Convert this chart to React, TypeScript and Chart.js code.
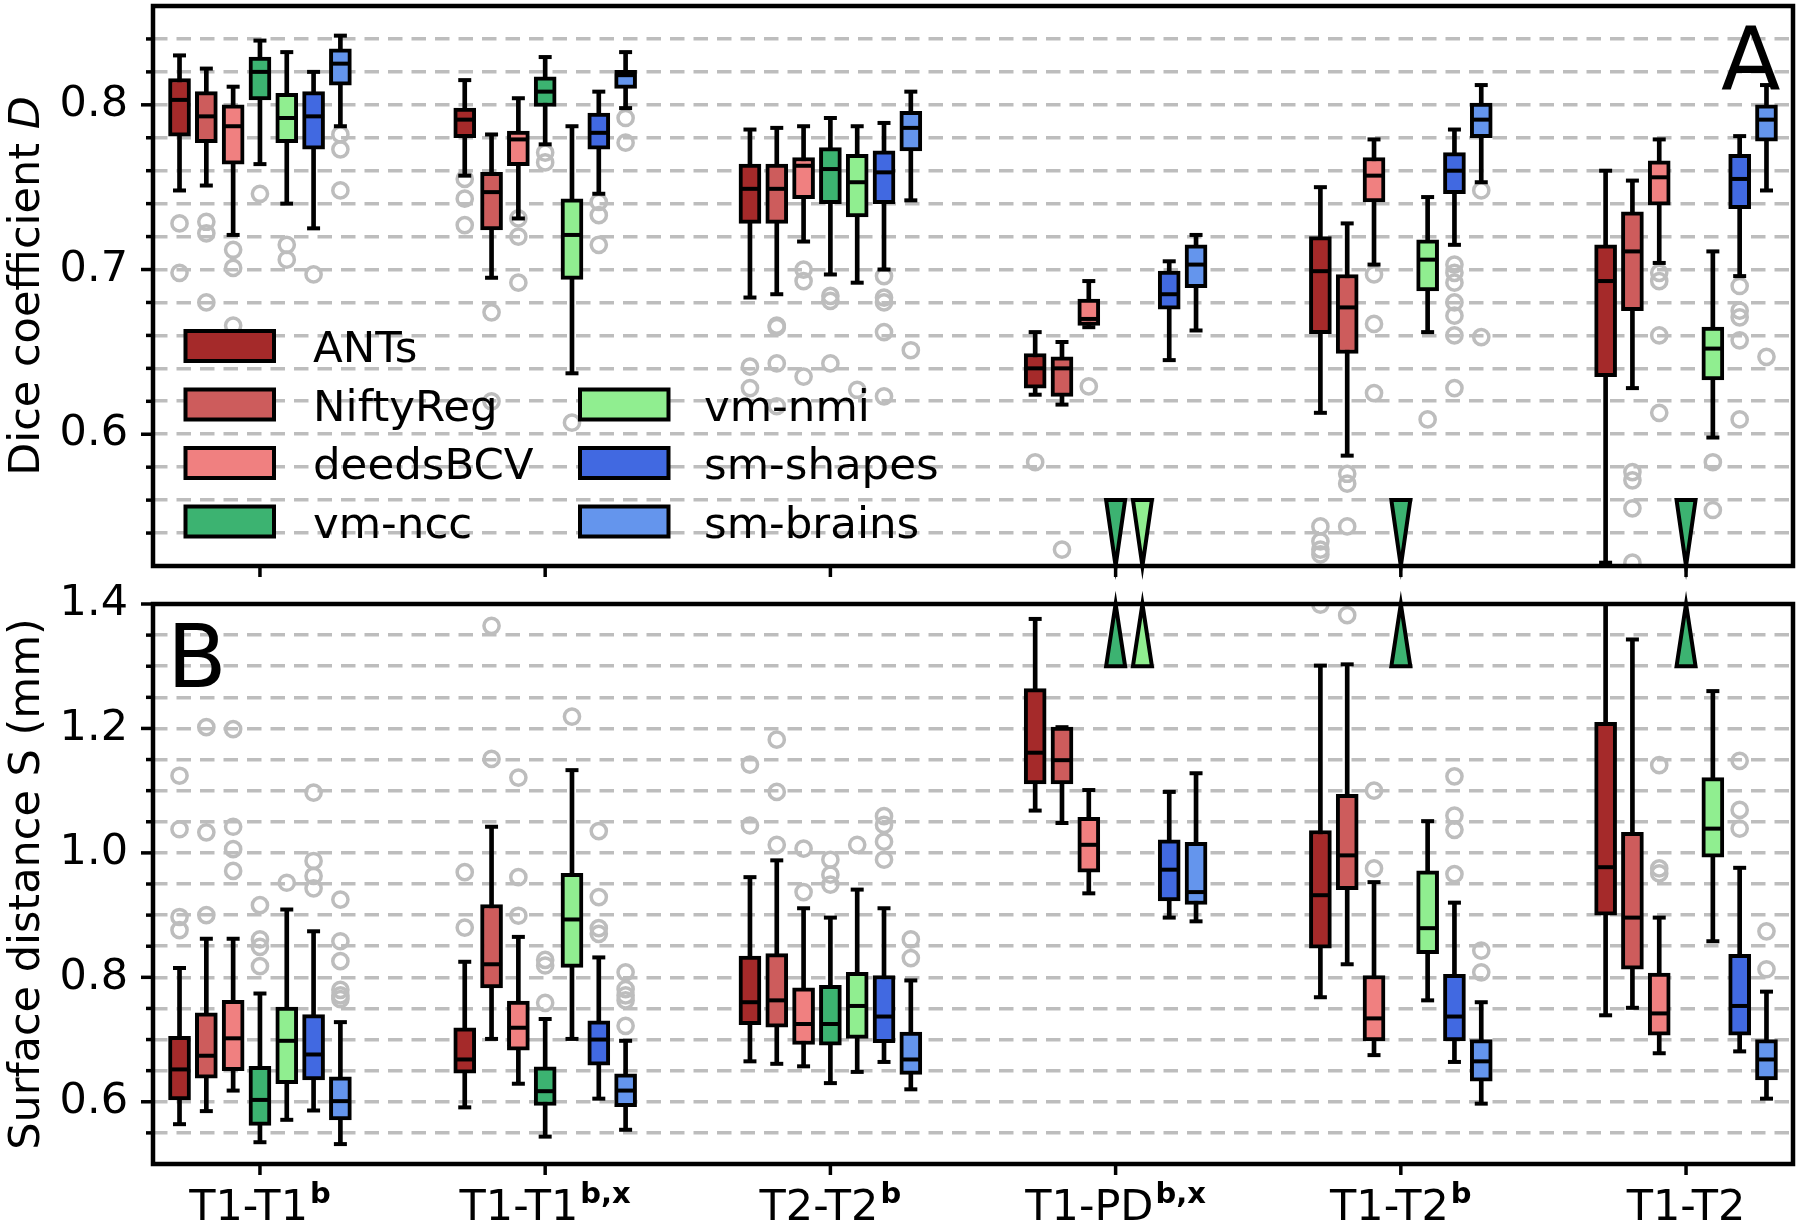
import React, { useEffect, useRef } from 'react';
import { Chart, registerables } from 'chart.js';

Chart.register(...registerables);

// ---------- categories / series ----------
const GROUPS = ['T1-T1', 'T1-T1', 'T2-T2', 'T1-PD', 'T1-T2', 'T1-T2'];
const GROUP_SUP = ['b', 'b,x', 'b', 'b,x', 'b', ''];
const SERIES = ['ANTs', 'NiftyReg', 'deedsBCV', 'vm-ncc', 'vm-nmi', 'sm-shapes', 'sm-brains'];
const COLORS = ['#a52a2a', '#cd5c5c', '#f08080', '#3cb371', '#90ee90', '#4169e1', '#6495ed'];

// ---------- Dice coefficient D (rows: series, cols: groups) ----------
const DICE_WHI = [
  [0.830, 0.815, 0.785, 0.662, 0.750, 0.760],
  [0.822, 0.782, 0.786, 0.656, 0.728, 0.754],
  [0.811, 0.804, 0.787, 0.693, 0.779, 0.779],
  [0.839, 0.829, 0.792, null, null, null],
  [0.832, 0.787, 0.787, null, 0.744, 0.711],
  [0.820, 0.808, 0.789, 0.705, 0.785, 0.781],
  [0.842, 0.832, 0.808, 0.721, 0.812, 0.812],
];
const DICE_Q3 = [
  [0.816, 0.798, 0.764, 0.649, 0.720, 0.715],
  [0.808, 0.759, 0.764, 0.647, 0.697, 0.735],
  [0.800, 0.784, 0.768, 0.682, 0.768, 0.766],
  [0.829, 0.817, 0.774, null, null, null],
  [0.807, 0.743, 0.770, null, 0.718, 0.665],
  [0.808, 0.795, 0.772, 0.699, 0.771, 0.770],
  [0.834, 0.821, 0.796, 0.715, 0.801, 0.800],
];
const DICE_MED = [
  [0.803, 0.791, 0.749, 0.640, 0.699, 0.693],
  [0.793, 0.747, 0.749, 0.640, 0.677, 0.711],
  [0.787, 0.779, 0.763, 0.670, 0.757, 0.756],
  [0.820, 0.808, 0.761, null, null, null],
  [0.792, 0.721, 0.753, null, 0.706, 0.652],
  [0.793, 0.783, 0.759, 0.685, 0.760, 0.755],
  [0.825, 0.818, 0.786, 0.703, 0.791, 0.791],
];
const DICE_Q1 = [
  [0.781, 0.780, 0.728, 0.628, 0.661, 0.635],
  [0.777, 0.724, 0.728, 0.623, 0.649, 0.675],
  [0.764, 0.763, 0.743, 0.666, 0.741, 0.739],
  [0.803, 0.799, 0.740, null, null, null],
  [0.777, 0.694, 0.732, null, 0.687, 0.633],
  [0.773, 0.773, 0.740, 0.676, 0.746, 0.737],
  [0.812, 0.810, 0.772, 0.689, 0.780, 0.778],
];
const DICE_WLO = [
  [0.748, 0.757, 0.683, 0.624, 0.613, 0.522],
  [0.751, 0.695, 0.685, 0.618, 0.587, 0.628],
  [0.721, 0.731, 0.717, 0.665, 0.703, 0.704],
  [0.764, 0.776, 0.697, null, null, null],
  [0.740, 0.637, 0.692, null, 0.662, 0.598],
  [0.725, 0.746, 0.700, 0.645, 0.715, 0.696],
  [0.787, 0.798, 0.742, 0.663, 0.753, 0.748],
];
const DICE_OUT = [
  [[0.728, 0.698], [0.755, 0.743, 0.727], [0.641, 0.628], [0.583], [0.544, 0.535, 0.530, 0.527], []],
  [[0.729, 0.722, 0.680], [0.674, 0.620], [0.666, 0.665, 0.643, 0.617], [0.530], [0.576, 0.570, 0.544], [0.577, 0.572, 0.555, 0.522]],
  [[0.712, 0.701, 0.666], [0.731, 0.720, 0.692], [0.700, 0.693, 0.635], [0.629], [0.697, 0.667, 0.625], [0.698, 0.693, 0.660, 0.613]],
  [[0.746], [0.771, 0.765], [0.684, 0.681, 0.643], [], [], []],
  [[0.715, 0.706], [0.607], [0.627], [], [0.609], [0.583, 0.554]],
  [[0.697], [0.741, 0.733, 0.715], [0.696, 0.683, 0.680, 0.662, 0.623], [], [0.703, 0.698, 0.692, 0.680, 0.672, 0.660, 0.628], [0.690, 0.675, 0.671, 0.657, 0.609]],
  [[0.782, 0.773, 0.748], [0.792, 0.777], [0.651], [], [0.748, 0.659], [0.647]],
];

// ---------- Surface distance S (mm) ----------
const SURF_WHI = [
  [0.815, 0.825, 0.961, 1.376, 1.301, 1.450],
  [0.862, 1.042, 0.988, 1.202, 1.303, 1.343],
  [0.862, 0.865, 0.911, 1.101, 0.953, 0.896],
  [0.774, 0.733, 0.896, null, null, null],
  [0.909, 1.133, 0.941, null, 1.051, 1.260],
  [0.874, 0.832, 0.911, 1.098, 0.920, 0.976],
  [0.728, 0.698, 0.795, 1.128, 0.760, 0.777],
];
const SURF_Q3 = [
  [0.705, 0.719, 0.834, 1.264, 1.036, 1.210],
  [0.743, 0.917, 0.838, 1.202, 1.094, 1.033],
  [0.763, 0.762, 0.783, 1.057, 0.803, 0.807],
  [0.657, 0.656, 0.787, null, null, null],
  [0.752, 0.967, 0.808, null, 0.971, 1.121],
  [0.740, 0.730, 0.803, 1.021, 0.805, 0.837],
  [0.640, 0.645, 0.712, 1.017, 0.700, 0.700],
];
const SURF_MED = [
  [0.652, 0.668, 0.760, 1.161, 0.932, 0.977],
  [0.674, 0.821, 0.763, 1.149, 0.996, 0.896],
  [0.702, 0.719, 0.725, 1.013, 0.734, 0.742],
  [0.603, 0.617, 0.725, null, null, null],
  [0.698, 0.893, 0.754, null, 0.879, 1.039],
  [0.676, 0.700, 0.737, 0.973, 0.737, 0.754],
  [0.601, 0.618, 0.668, 0.937, 0.665, 0.668],
];
const SURF_Q1 = [
  [0.603, 0.646, 0.724, 1.111, 0.847, 0.900],
  [0.638, 0.783, 0.720, 1.111, 0.941, 0.813],
  [0.650, 0.683, 0.692, 0.969, 0.698, 0.707],
  [0.562, 0.594, 0.691, null, null, null],
  [0.629, 0.816, 0.702, null, 0.838, 0.993],
  [0.635, 0.659, 0.695, 0.923, 0.698, 0.707],
  [0.571, 0.592, 0.644, 0.917, 0.633, 0.635],
];
const SURF_WLO = [
  [0.564, 0.591, 0.665, 1.068, 0.768, 0.739],
  [0.585, 0.701, 0.661, 1.048, 0.821, 0.751],
  [0.618, 0.629, 0.657, 0.935, 0.675, 0.678],
  [0.535, 0.544, 0.630, null, null, null],
  [0.571, 0.701, 0.648, null, 0.763, 0.858],
  [0.586, 0.605, 0.664, 0.896, 0.664, 0.681],
  [0.532, 0.555, 0.620, 0.890, 0.597, 0.605],
];
const SURF_OUT = [
  [[1.124, 1.038, 0.897, 0.876], [0.969, 0.880], [1.142, 1.044], [], [1.399], []],
  [[1.202, 1.033, 0.900], [1.365, 1.151], [1.182, 1.098, 1.013], [], [1.382], []],
  [[1.199, 1.042, 1.006, 0.971], [1.121, 0.961, 0.899], [1.007, 0.937], [], [1.100, 0.975], [1.141, 0.975, 0.967]],
  [[0.916, 0.861, 0.849, 0.818], [0.828, 0.819, 0.759], [0.989, 0.965, 0.949], [], [], []],
  [[0.952], [1.219], [1.013], [], [], []],
  [[1.097, 0.987, 0.963, 0.943], [1.035, 0.929, 0.879, 0.870], [1.059, 1.045, 1.018, 0.989], [], [1.123, 1.060, 1.037, 0.966], [1.148, 1.069, 1.039]],
  [[0.925, 0.858, 0.826, 0.780, 0.771, 0.765], [0.808, 0.781, 0.771, 0.763, 0.722], [0.861, 0.831], [], [0.843, 0.808], [0.874, 0.813]],
];

// off-scale markers (group index, series index)
const OFFSCALE_GROUP = [3, 3, 4, 5];
const OFFSCALE_SERIES = [3, 4, 3, 3];
const DICE_MARK = 0.56;
const SURF_MARK = 1.30;

// axis ranges
const DICE_RANGE = [0.52, 0.86];
const SURF_RANGE = [0.5, 1.4];
const X_RANGE = [-0.375, 5.375];

// ---------- styling ----------
const FONT = '"DejaVu Sans"';
const FS = 43;
const SPACING = 0.094;
const GRID = '#bdbdbd';
const LW = 4;
const B_TOP = 570; // page y of canvas B
const pos = (g: number, k: number) => g + (k - 3) * SPACING;

function buildDatasets(whi: any[][], q3: any[][], med: any[][], q1: any[][], wlo: any[][], out: number[][][]) {
  const ds: any[] = [];
  SERIES.forEach((name, k) => {
    const boxes: any[] = [];
    const whiskers: any[] = [];
    const medians: any[] = [];
    const caps: any[] = [];
    const outs: any[] = [];
    for (let g = 0; g < GROUPS.length; g++) {
      if (med[k][g] == null) continue;
      const x = pos(g, k);
      boxes.push({ x, y: [q1[k][g], q3[k][g]] });
      whiskers.push({ x, y: [wlo[k][g], whi[k][g]] });
      medians.push({ x, y: med[k][g] });
      caps.push({ x, y: wlo[k][g] }, { x, y: whi[k][g] });
      out[k][g].forEach((v) => outs.push({ x, y: v }));
    }
    ds.push({
      type: 'scatter', label: name + ' outliers', data: outs, order: 50, showLine: false,
      pointStyle: 'circle', pointRadius: 7.6, pointBorderWidth: 3.5, pointBorderColor: GRID,
      pointBackgroundColor: 'rgba(0,0,0,0)', clip: 0,
    });
    ds.push({
      type: 'bar', label: name + ' whiskers', data: whiskers, order: 40, backgroundColor: '#000',
      borderWidth: 0, barThickness: LW, grouped: false, clip: 0,
    });
    ds.push({
      type: 'scatter', label: name + ' caps', data: caps, order: 30, showLine: false,
      pointStyle: 'line', pointRadius: 6.5, pointBorderWidth: LW, pointBorderColor: '#000', clip: 0,
    });
    ds.push({
      type: 'bar', label: name, data: boxes, order: 20, backgroundColor: COLORS[k], borderColor: '#000',
      borderWidth: LW, borderSkipped: false, barThickness: 22, grouped: false, clip: 0,
    });
    ds.push({
      type: 'scatter', label: name + ' median', data: medians, order: 10, showLine: false,
      pointStyle: 'line', pointRadius: 10.5, pointBorderWidth: LW, pointBorderColor: '#000', clip: 0,
    });
  });
  return ds;
}

function drawYTitle(ctx: CanvasRenderingContext2D, cy: number, parts: { t: string; italic: boolean }[]) {
  ctx.save();
  const fonts = parts.map((p) => (p.italic ? 'italic ' : '') + FS + 'px ' + FONT);
  const widths = parts.map((p, i) => { ctx.font = fonts[i]; return ctx.measureText(p.t).width; });
  const total = widths.reduce((a, b) => a + b, 0);
  ctx.translate(39, cy);
  ctx.rotate(-Math.PI / 2);
  ctx.fillStyle = '#000';
  ctx.textAlign = 'left';
  ctx.textBaseline = 'alphabetic';
  let x = -total / 2;
  parts.forEach((p, i) => { ctx.font = fonts[i]; ctx.fillText(p.t, x, 0); x += widths[i]; });
  ctx.restore();
}

function makeDecor(panel: 'A' | 'B') {
  return {
    id: 'decor' + panel,
    afterDatasetsDraw(chart: any) {
      const { ctx, chartArea, scales } = chart;
      const xs = scales.x;
      const ys = scales.y;
      ctx.save();
      for (let i = 0; i < OFFSCALE_GROUP.length; i++) {
        const g = OFFSCALE_GROUP[i];
        const k = OFFSCALE_SERIES[i];
        const px = xs.getPixelForValue(pos(g, k));
        const base = ys.getPixelForValue(panel === 'A' ? DICE_MARK : SURF_MARK);
        const apex = panel === 'A' ? chartArea.bottom : chartArea.top;
        ctx.beginPath();
        ctx.moveTo(px - 9.5, base);
        ctx.lineTo(px + 9.5, base);
        ctx.lineTo(px, apex);
        ctx.closePath();
        ctx.fillStyle = COLORS[k];
        ctx.fill();
        ctx.lineWidth = LW;
        ctx.lineJoin = 'miter';
        ctx.strokeStyle = '#000';
        ctx.stroke();
      }
      ctx.restore();
    },
    afterDraw(chart: any) {
      const { ctx, chartArea, scales } = chart;
      const { left, right, top, bottom } = chartArea;
      const xs = scales.x;
      const ys = scales.y;
      ctx.save();
      ctx.strokeStyle = '#000';
      // y tick marks
      ctx.lineWidth = 3.5;
      ys.ticks.forEach((t: any) => {
        const major = !!t.label;
        const atEdge = Math.abs(t.value - ys.min) < 1e-9 || Math.abs(t.value - ys.max) < 1e-9;
        if (!major && atEdge) return;
        const py = ys.getPixelForValue(t.value);
        const len = major ? 12 : 7;
        ctx.beginPath();
        ctx.moveTo(left - len, py);
        ctx.lineTo(left, py);
        ctx.stroke();
      });
      // x tick marks
      for (let g = 0; g < GROUPS.length; g++) {
        const px = xs.getPixelForValue(g);
        ctx.beginPath();
        ctx.moveTo(px, bottom);
        ctx.lineTo(px, bottom + 11);
        ctx.stroke();
      }
      // frame
      ctx.lineWidth = 4.5;
      ctx.strokeRect(left, top, right - left, bottom - top);

      ctx.fillStyle = '#000';
      if (panel === 'A') {
        ctx.font = '87px ' + FONT;
        ctx.textAlign = 'left';
        ctx.textBaseline = 'alphabetic';
        ctx.fillText('A', 1721, 89);
        drawYTitle(ctx, (top + bottom) / 2, [
          { t: 'Dice coefficient ', italic: false },
          { t: 'D', italic: true },
        ]);
        // legend
        const rowY = [346, 404.5, 463, 521.5];
        const colX = [183.5, 578];
        const textX = [313, 704];
        SERIES.forEach((name, k) => {
          const col = k < 4 ? 0 : 1;
          const row = k < 4 ? k : k - 3;
          const cy = rowY[row];
          ctx.fillStyle = COLORS[k];
          ctx.fillRect(colX[col] + 2, cy - 15, 88.5, 30);
          ctx.lineWidth = LW;
          ctx.strokeStyle = '#000';
          ctx.strokeRect(colX[col] + 2, cy - 15, 88.5, 30);
          ctx.fillStyle = '#000';
          ctx.font = '43.5px ' + FONT;
          ctx.textAlign = 'left';
          ctx.textBaseline = 'alphabetic';
          ctx.fillText(name, textX[col], cy + 16);
        });
      } else {
        ctx.font = '87px ' + FONT;
        ctx.textAlign = 'left';
        ctx.textBaseline = 'alphabetic';
        ctx.fillText('B', 167, 687 - B_TOP);
        drawYTitle(ctx, (top + bottom) / 2, [{ t: 'Surface distance S (mm)', italic: false }]);
        // x labels with bold superscripts
        const base = bottom + 56;
        for (let g = 0; g < GROUPS.length; g++) {
          const px = xs.getPixelForValue(g);
          ctx.font = FS + 'px ' + FONT;
          const wm = ctx.measureText(GROUPS[g]).width;
          ctx.font = 'bold 29px ' + FONT;
          const ws = GROUP_SUP[g] ? ctx.measureText(GROUP_SUP[g]).width + 2 : 0;
          const x0 = px - (wm + ws) / 2;
          ctx.textAlign = 'left';
          ctx.textBaseline = 'alphabetic';
          ctx.font = FS + 'px ' + FONT;
          ctx.fillText(GROUPS[g], x0, base);
          if (GROUP_SUP[g]) {
            ctx.font = 'bold 29px ' + FONT;
            ctx.fillText(GROUP_SUP[g], x0 + wm + 2, base - 17.5);
          }
        }
      }
      ctx.restore();
    },
  };
}

function makeConfig(panel: 'A' | 'B') {
  const isA = panel === 'A';
  const datasets = isA
    ? buildDatasets(DICE_WHI, DICE_Q3, DICE_MED, DICE_Q1, DICE_WLO, DICE_OUT)
    : buildDatasets(SURF_WHI, SURF_Q3, SURF_MED, SURF_Q1, SURF_WLO, SURF_OUT);
  const range = isA ? DICE_RANGE : SURF_RANGE;
  return {
    type: 'bar',
    data: { datasets },
    options: {
      animation: false,
      responsive: false,
      maintainAspectRatio: false,
      devicePixelRatio: 1,
      events: [],
      layout: { autoPadding: false, padding: { top: isA ? 6 : 604 - B_TOP, right: 7, left: 0, bottom: 0 } },
      plugins: { legend: { display: false }, tooltip: { enabled: false }, title: { display: false } },
      scales: {
        x: {
          type: 'linear',
          min: X_RANGE[0],
          max: X_RANGE[1],
          offset: false,
          grid: { display: false, drawTicks: false, offset: false },
          border: { display: false },
          ticks: { display: false },
          afterFit: (s: any) => {
            s.height = isA ? 24 : 61;
            s.paddingLeft = 0; s.paddingRight = 0; s.paddingTop = 0; s.paddingBottom = 0;
          },
        },
        y: {
          type: 'linear',
          min: range[0],
          max: range[1],
          grid: { color: GRID, lineWidth: 3.6, drawTicks: false },
          border: { display: false, dash: [14.5, 9] },
          ticks: {
            stepSize: isA ? 0.02 : 0.05,
            autoSkip: false,
            padding: 25,
            color: '#000',
            font: { family: FONT, size: FS },
            callback: (v: number) => {
              if (isA) {
                const r = Math.round(v * 10);
                return Math.abs(v * 10 - r) < 1e-6 && v > 0.55 && v < 0.85 ? (r / 10).toFixed(1) : '';
              }
              const r = Math.round(v * 5);
              return Math.abs(v * 5 - r) < 1e-6 ? (r / 5).toFixed(1) : '';
            },
          },
          afterFit: (s: any) => {
            s.width = 153;
            s.paddingTop = 0; s.paddingBottom = 0; s.paddingLeft = 0; s.paddingRight = 0;
          },
        },
      },
    },
    plugins: [makeDecor(panel)],
  };
}

export default function App() {
  const refA = useRef<HTMLCanvasElement | null>(null);
  const refB = useRef<HTMLCanvasElement | null>(null);

  useEffect(() => {
    if (!refA.current || !refB.current) return;
    const a = new Chart(refA.current, makeConfig('A') as any);
    const b = new Chart(refB.current, makeConfig('B') as any);
    return () => { a.destroy(); b.destroy(); };
  }, []);

  return (
    <div style={{ position: 'absolute', left: 0, top: 0, width: 1800, height: 1225, background: '#fff', overflow: 'hidden' }}>
      <canvas ref={refA} width={1800} height={590}
        style={{ position: 'absolute', left: 0, top: 0, width: 1800, height: 590 }} />
      <canvas ref={refB} width={1800} height={1225 - B_TOP}
        style={{ position: 'absolute', left: 0, top: B_TOP, width: 1800, height: 1225 - B_TOP }} />
    </div>
  );
}
